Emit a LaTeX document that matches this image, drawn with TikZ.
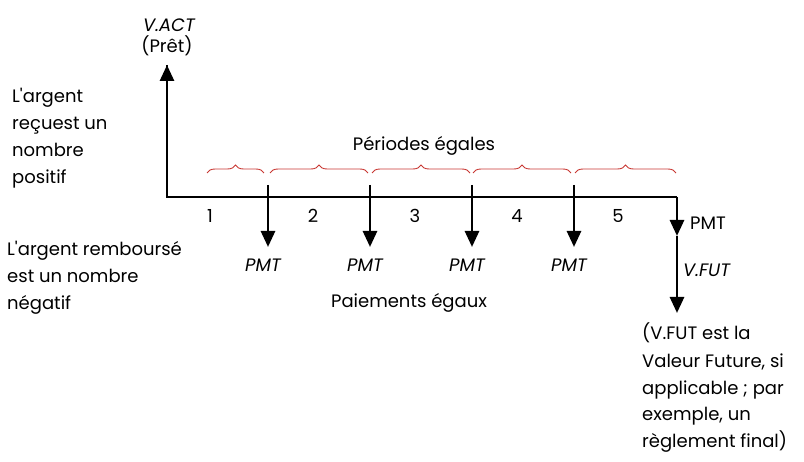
\documentclass[tikz,border=0pt]{standalone}
\usepackage{fontspec}
\setmainfont{Poppins}[Ligatures=TeXOff]
\usetikzlibrary{arrows.meta,decorations.pathreplacing}
\definecolor{bracered}{RGB}{200,55,50}
\tikzset{
  txt/.style={font=\fontsize{18}{27}\selectfont, inner sep=0pt},
  para/.style={txt, align=left, anchor=base west},
  axis/.style={line width=2pt},
  flow/.style={line width=2.8pt, -{Triangle[length=16pt,width=14pt]}},
  brc/.style={bracered, line width=0.9pt, decorate, decoration={brace, amplitude=8pt}},
}
\begin{document}
\begin{tikzpicture}[x=1pt,y=-1pt]
\useasboundingbox (0,0) rectangle (804,462);
% axis points
\coordinate (o) at (167,197);
\coordinate (e) at (677,197);
\coordinate (top) at (167,65);
\foreach \i/\x in {1/268,2/370,3/472,4/574}{
  \coordinate (t\i) at (\x,185);
  \coordinate (h\i) at (\x,247);
}
\coordinate (mid) at (677,236);
\coordinate (bot) at (677,313);
% lines
\draw[axis] (top) -- (o) -- (e);
\draw[flow] (o) -- (top);
\foreach \i in {1,2,3,4}{\draw[flow] (t\i) -- (h\i);}
\draw[flow] (e) -- (mid);
\draw[flow] (mid) -- (bot);
% braces
\draw[brc] (207,173) -- (264,173);
\draw[brc] (270,173) -- (368,173);
\draw[brc] (372,173) -- (470,173);
\draw[brc] (473,173) -- (571,173);
\draw[brc] (575,173) -- (676,173);
% labels
\node[txt, anchor=base] (vact) at (169,32) {\itshape V.ACT};
\node[txt, anchor=base] (pret) at (167,53) {(Prêt)};
\node[txt, anchor=base] (per) at (424,151) {Périodes égales};
\node[txt, anchor=base] (pai) at (409,308) {Paiements égaux};
\foreach \i/\x in {1/210,2/313,3/415,4/517,5/618}{
  \node[txt, anchor=base] (n\i) at (\x,223) {\i};
}
\foreach \i/\x in {1/263,2/365,3/467,4/569}{
  \node[txt, anchor=base] (p\i) at (\x,272) {\itshape PMT};
}
\node[txt, anchor=base west] (pmtend) at (690,230) {PMT};
\node[txt, anchor=base west] (vfut) at (683,277) {\itshape V.FUT};
\node[para] (left1) at (12,184) {L'argent\\reçuest un\\nombre\\positif};
\node[para] (left2) at (7,310) {L'argent remboursé\\est un nombre\\négatif};
\node[para] (note) at (642,448) {(V.FUT est la\\Valeur Future, si\\applicable ; par\\exemple, un\\règlement final)};
\end{tikzpicture}
\end{document}
